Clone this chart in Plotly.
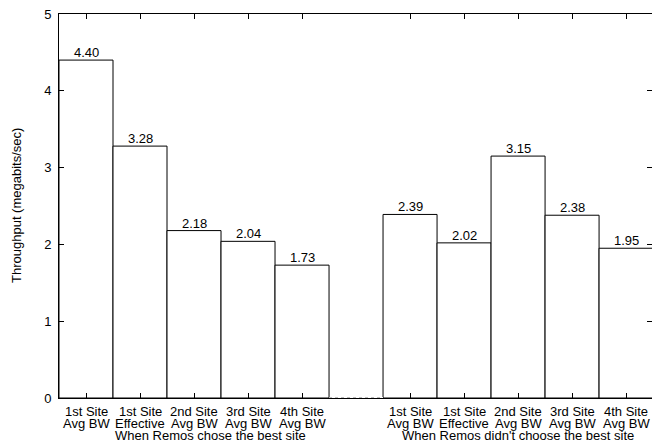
import plotly.graph_objects as go

# Bar layout: two groups of five bars, one empty slot between them
positions = [0, 1, 2, 3, 4, 6, 7, 8, 9, 10]
throughput = [4.40, 3.28, 2.18, 2.04, 1.73, 2.39, 2.02, 3.15, 2.38, 1.95]
line1 = ["1st Site", "1st Site", "2nd Site", "3rd Site", "4th Site"] * 2
line2 = ["Avg BW", "Effective", "Avg BW", "Avg BW", "Avg BW"] * 2
group_labels = ["When Remos chose the best site", "When Remos didn't choose the best site"]
group_centers = [2.3, 8.0]
y_ticks = [0, 1, 2, 3, 4, 5]

FONT = "Liberation Sans, Arial, sans-serif"
FS = 13
W, H = 652, 442
ML, MR, MT, MB = 59, 0, 14, 44
plot_h = H - MT - MB

fig = go.Figure()
fig.add_trace(go.Bar(
    x=positions,
    y=throughput,
    width=1,
    marker=dict(color="white", line=dict(color="black", width=1)),
    hoverinfo="skip",
))
# invisible helper so the right-hand tick axis is always built
fig.add_trace(go.Scatter(x=[0], y=[0], yaxis="y2", mode="markers",
                         marker=dict(opacity=0), hoverinfo="skip"))

def ypaper(px):
    # pixel row below the plot bottom -> paper coordinate
    return -(px - (H - MB)) / plot_h

txt = dict(family=FONT, size=FS, color="black")
annotations = []
# value labels sitting right on top of each bar
for xp, v in zip(positions, throughput):
    annotations.append(dict(x=xp, y=v, xref="x", yref="y", text=f"{v:.2f}",
                            showarrow=False, xanchor="center", yanchor="bottom",
                            yshift=-2, font=txt))
for xp, a, b in zip(positions, line1, line2):
    annotations.append(dict(x=xp, y=ypaper(411), xref="x", yref="paper", text=a,
                            showarrow=False, xanchor="center", yanchor="middle", font=txt))
    annotations.append(dict(x=xp, y=ypaper(423), xref="x", yref="paper", text=b,
                            showarrow=False, xanchor="center", yanchor="middle", font=txt))
for xc, g in zip(group_centers, group_labels):
    annotations.append(dict(x=xc, y=ypaper(435), xref="x", yref="paper", text=g,
                            showarrow=False, xanchor="center", yanchor="middle", font=txt))
annotations.append(dict(x=-(ML - 16) / (W - ML - MR), y=0.5, xref="paper", yref="paper",
                        text="Throughput (megabits/sec)", textangle=-90, showarrow=False,
                        xanchor="center", yanchor="middle", font=txt))

shapes = [
    # gap between the groups: plain baseline replaced by a grey dotted one
    dict(type="line", xref="x", yref="y", x0=4.5, x1=5.5, y0=0, y1=0,
         line=dict(color="white", width=2), layer="above"),
    dict(type="line", xref="x", yref="y", x0=4.5, x1=5.5, y0=0, y1=0,
         line=dict(color="#777777", width=1, dash="dot"), layer="above"),
]

fig.update_layout(
    width=W, height=H,
    margin=dict(l=ML, r=MR, t=MT, b=MB),
    paper_bgcolor="white", plot_bgcolor="white",
    showlegend=False,
    font=txt,
    annotations=annotations,
    shapes=shapes,
    xaxis=dict(range=[-0.5, 10.48], tickvals=positions, showticklabels=False,
               ticks="inside", ticklen=5, tickcolor="black", tickwidth=1,
               showline=True, linecolor="black", linewidth=1, mirror="ticks",
               showgrid=False, zeroline=False, fixedrange=True),
    yaxis=dict(range=[0, 5], tickvals=y_ticks, ticks="inside", ticklen=5,
               tickcolor="black", tickwidth=1, showline=True, linecolor="black",
               linewidth=1, showgrid=False, zeroline=False,
               ticklabelstandoff=4, tickfont=txt, fixedrange=True),
    yaxis2=dict(range=[0, 5], tickvals=y_ticks, ticks="inside", ticklen=5,
                tickcolor="black", tickwidth=1, showline=False, showticklabels=False,
                overlaying="y", side="right", showgrid=False, zeroline=False,
                fixedrange=True),
)

fig.write_html("out.html")
